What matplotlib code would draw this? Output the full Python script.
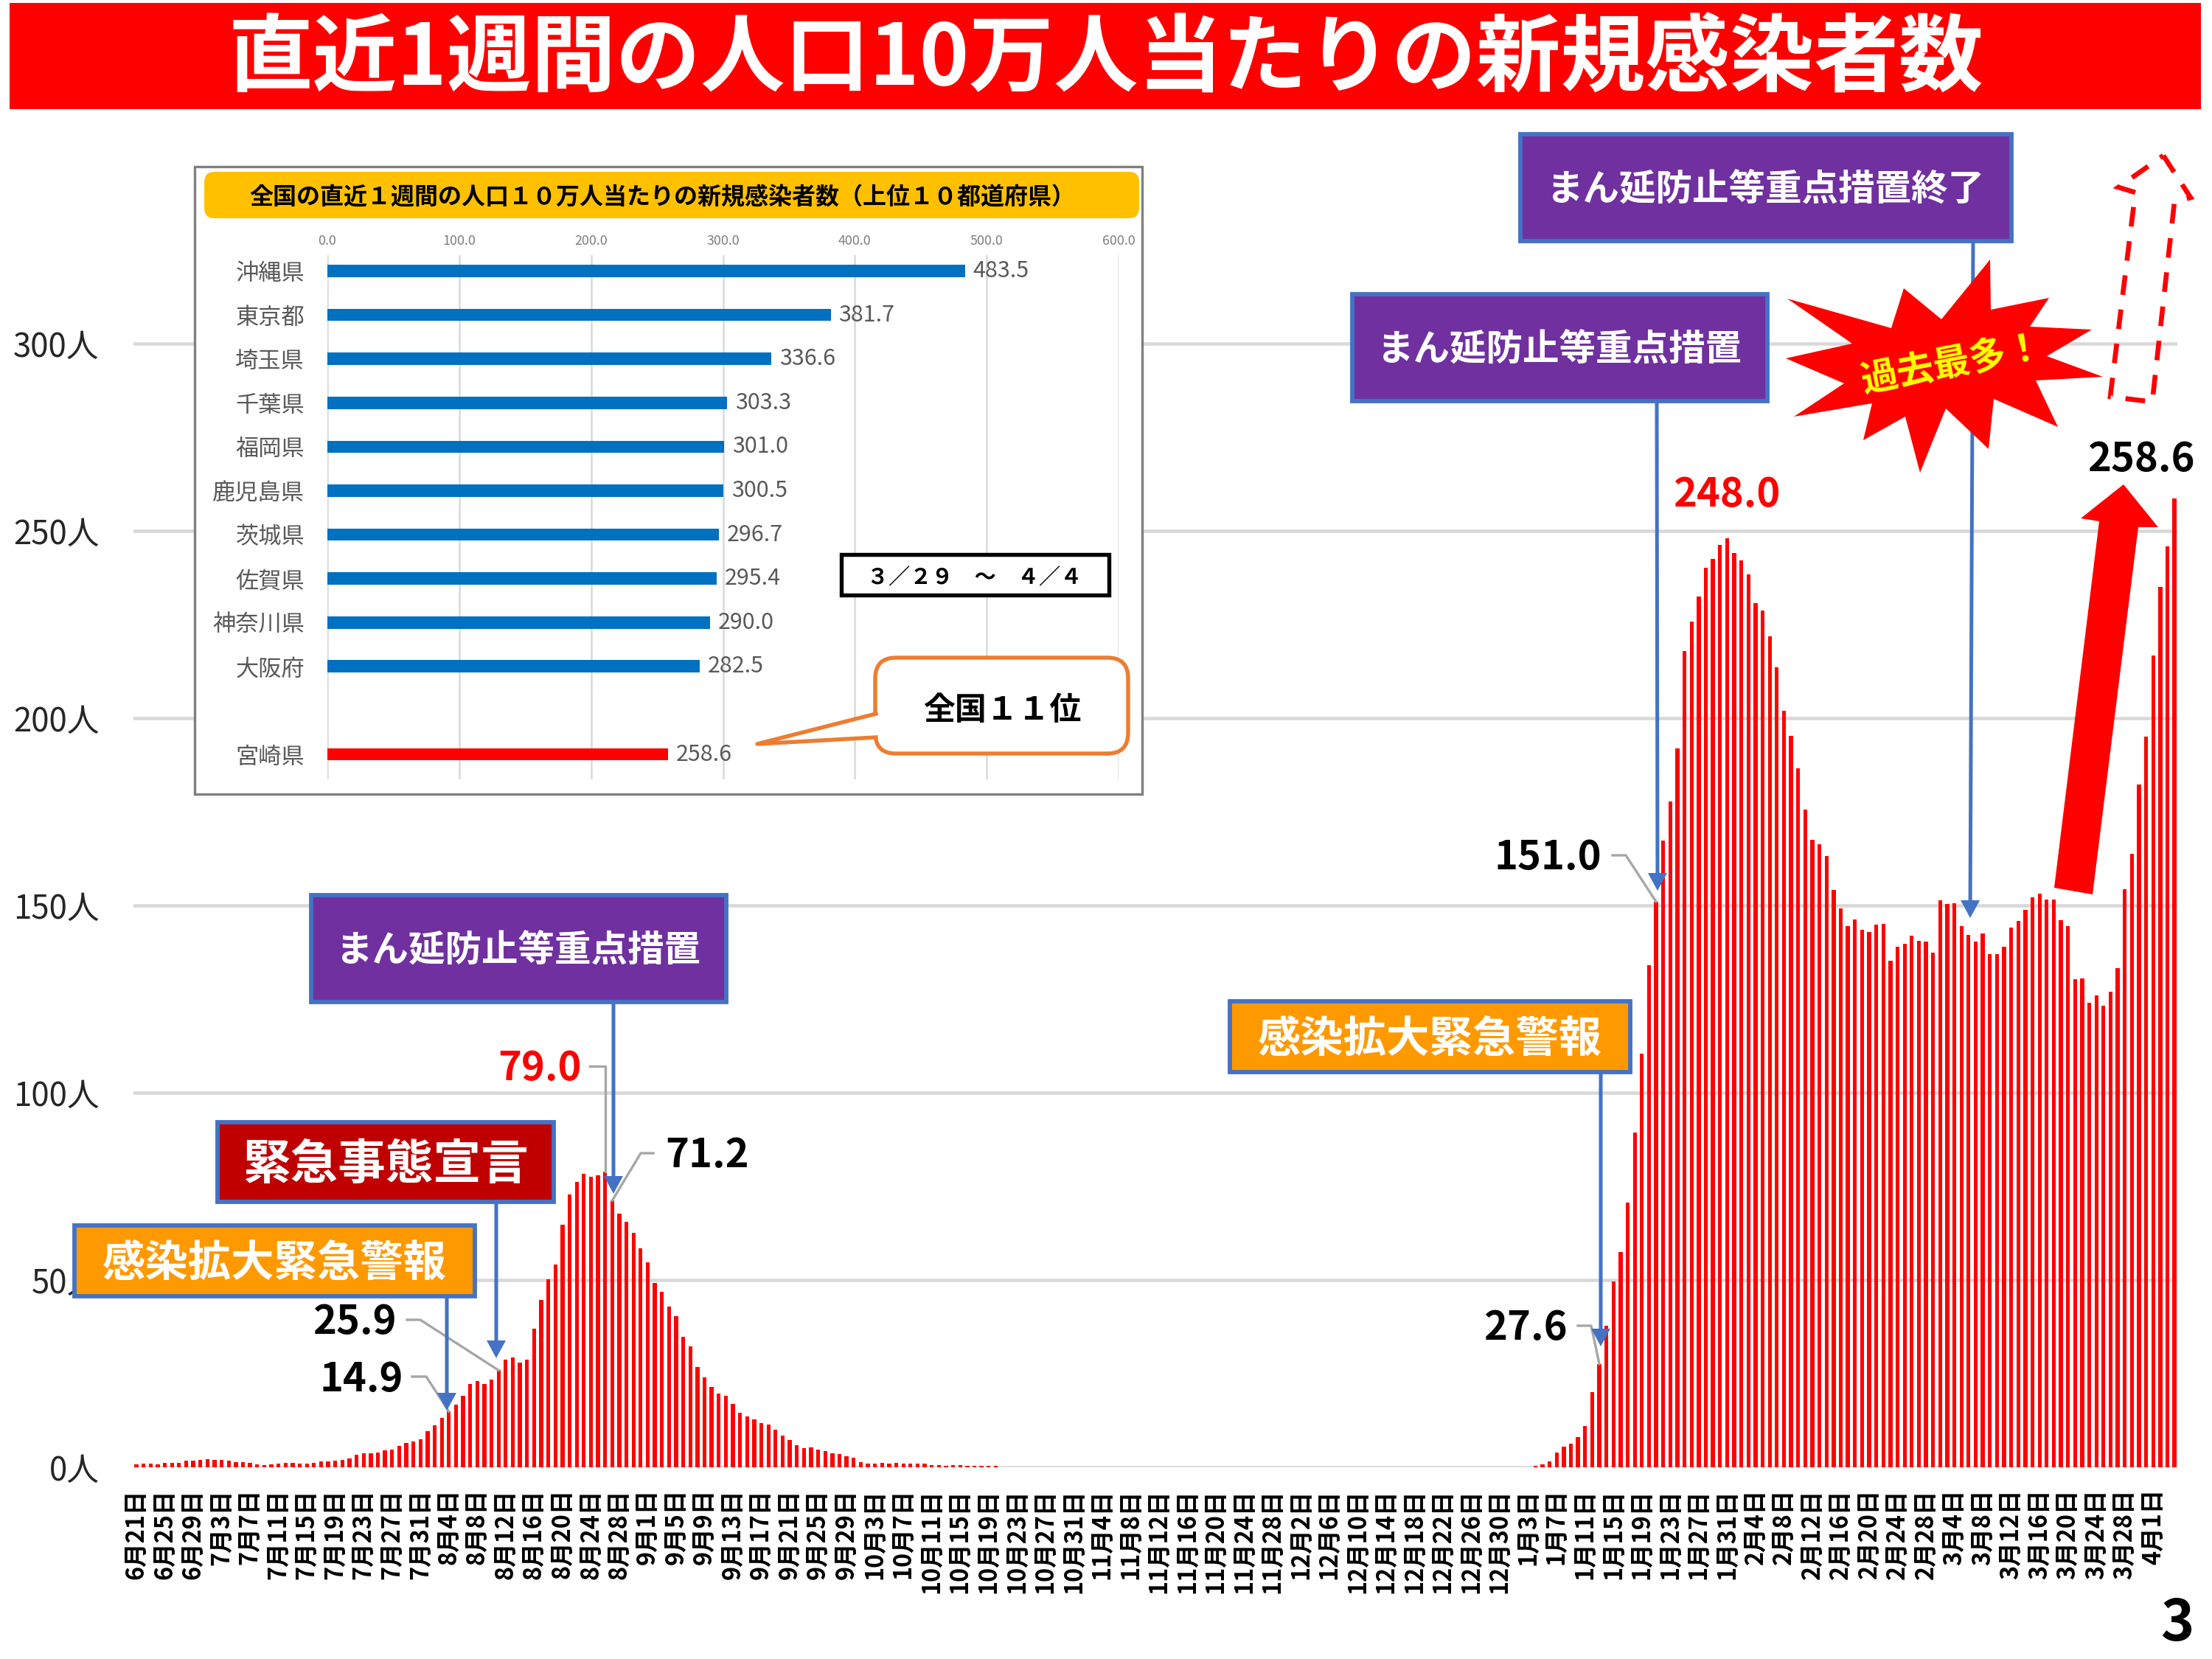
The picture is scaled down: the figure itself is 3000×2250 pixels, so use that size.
"""
Miyazaki: new cases per 100k population over the last 7 days (6/21 - 4/4),
with the national top-10 inset. Single slide figure, 3000x2250.
"""

import numpy as np
import pandas as pd
import matplotlib
matplotlib.use("Agg")
import matplotlib.pyplot as plt
from matplotlib.patches import Rectangle, FancyBboxPatch, Polygon, FancyArrow

plt.rcParams["font.family"] = ["Noto Sans CJK JP", "DejaVu Sans"]

START = "2021-06-21"
END = "2022-04-04"

# 6/21 - 10/20
SUMMER = [
    0.8, 0.9, 0.9, 0.8, 1.1, 1.1, 1.2, 1.8, 1.8, 2.0, 2.1, 1.9, 1.9, 1.8, 1.3,
    1.3, 1.2, 0.7, 0.5, 0.7, 0.9, 1.1, 1.2, 0.9, 1.0, 1.2, 1.5, 1.5, 1.7, 2.0,
    2.4, 3.3, 3.7,
    3.7, 3.9, 4.5, 4.8, 5.8, 6.4, 6.8, 7.5, 9.6, 11.3, 13.1, 14.9, 16.7, 19.1,
    22.2, 23.1, 22.2, 23.5, 25.9, 28.8, 29.3, 27.9, 28.8, 37.0, 44.6, 50.2,
    54.2, 64.7, 72.9, 76.1, 78.4, 77.6, 78.0, 79.0, 71.2, 67.7, 65.6, 62.6,
    58.4, 54.7, 49.3, 46.9, 43.0, 40.3, 34.8, 32.3, 26.8, 24.1, 21.4, 19.6,
    19.1, 16.9,
    14.6, 13.6, 12.7, 11.8, 11.4, 10.1, 8.5, 7.2, 6.0, 5.1, 5.4, 4.7, 4.3,
    3.7, 3.6, 3.0, 2.5, 1.3, 0.9, 0.9, 1.2, 1.0, 1.1, 1.0, 0.9, 0.9, 0.9,
    0.6, 0.5, 0.3, 0.6, 0.5, 0.4, 0.3, 0.3, 0.4, 0.4,
]
# 10/21 - 1/3
QUIET = [
    0, 0, 0, 0, 0, 0, 0, 0, 0, 0, 0, 0, 0, 0, 0,
    0, 0, 0, 0, 0, 0, 0, 0, 0, 0, 0, 0, 0, 0, 0,
    0, 0, 0, 0, 0, 0, 0, 0, 0, 0, 0, 0, 0, 0, 0,
    0, 0, 0, 0, 0, 0, 0, 0, 0, 0, 0, 0, 0, 0, 0,
    0, 0, 0, 0, 0, 0, 0, 0, 0, 0, 0, 0, 0, 0, 0,
]
# 1/4 - 4/4
WINTER = [
    0.3, 0.7, 1.5, 3.9, 5.5, 6.3, 8.0, 11.1, 20.0, 27.6, 37.7, 49.7, 57.4,
    70.7, 89.4, 110.4, 134.1, 151.0, 167.3, 177.7, 191.9, 218.0, 225.7, 232.5,
    240.1, 242.6, 246.2, 248.0, 244.0, 242.1, 238.4, 230.7, 228.8, 221.9,
    213.5, 201.9, 195.2, 186.6, 175.5, 167.5, 166.4, 163.2,
    154.2, 149.3, 144.4, 146.2, 143.5, 142.9, 144.9, 145.1, 135.3, 138.9,
    139.7, 142.0, 140.6, 140.4, 137.5, 151.3, 150.4, 150.5, 144.4, 142.2,
    140.4, 142.6, 137.1, 137.0, 138.9, 144.0, 145.8, 148.9, 152.2, 153.1,
    151.6, 151.6, 146.0, 144.4, 130.3, 130.6, 124.1, 125.9, 123.2, 127.0,
    133.2, 154.3, 163.8, 182.2, 195.1, 216.8, 235.0, 245.8, 258.6,
]

Y_TICKS = [0, 50, 100, 150, 200, 250, 300]

# inset: national top 10 + Miyazaki (3/29 - 4/4)
PREFS = ["沖縄県", "東京都", "埼玉県", "千葉県", "福岡県", "鹿児島県",
         "茨城県", "佐賀県", "神奈川県", "大阪府", "宮崎県"]
RATES = [483.5, 381.7, 336.6, 303.3, 301.0, 300.5, 296.7, 295.4, 290.0, 282.5, 258.6]
PREF_ROWS = [0, 1, 2, 3, 4, 5, 6, 7, 8, 9, 11]

RED = "#FF0000"
BLUE_EDGE = "#4472C4"
PURPLE = "#7030A0"
ORANGE = "#FF9900"
DARK_RED = "#C00000"
GRID = "#D9D9D9"
LEADER = "#A6A6A6"

W, H = 3000, 2250

values = np.array(SUMMER + QUIET + WINTER, dtype=float)
dates = pd.date_range(START, END, freq="D")
days = np.arange(len(dates))
tick_days = days[::4]
tick_labels = [f"{d.month}月{d.day}日" for d in dates[::4]]

fig = plt.figure(figsize=(10, 7.5), dpi=300)

# ---- main bar chart
ax = fig.add_axes([180.5 / W, 1 - 1990 / H, (2953 - 180.5) / W, (1990 - 313.6) / H])
ax.set_zorder(0)
ax.bar(days, values, width=0.55, color=RED, linewidth=0)
ax.set_xlim(-0.47, 287.4)
ax.set_ylim(0, 330)
ax.set_yticks(Y_TICKS)
ax.set_yticklabels([f"{v}人" for v in Y_TICKS], fontsize=10.5, color="#262626")
ax.set_xticks(tick_days)
ax.set_xticklabels(tick_labels, rotation=90, fontsize=7.8, fontweight="bold")
ax.tick_params(axis="y", length=0, pad=11)
ax.tick_params(axis="x", length=0, pad=7)
ax.grid(axis="y", color=GRID, lw=1.1)
ax.set_axisbelow(True)
for s in ax.spines.values():
    s.set_visible(False)

# ---- overlays in pixel coordinates (y down)
under = fig.add_axes([0, 0, 1, 1])
under.set_zorder(1)
top = fig.add_axes([0, 0, 1, 1])
top.set_zorder(3)
for o in (under, top):
    o.set_xlim(0, W)
    o.set_ylim(H, 0)
    o.axis("off")
    o.patch.set_visible(False)

# inset background
under.add_patch(Rectangle((264, 226), 1285, 851, facecolor="white",
                          edgecolor="#7F7F7F", lw=0.8))

# ---- inset bar chart
ax_in = fig.add_axes([444 / W, 1 - 1057 / H, (1517 - 444) / W, (1057 - 346) / H])
ax_in.set_zorder(2)
ax_in.patch.set_visible(False)
colors = ["#0070C0"] * 10 + [RED]
ax_in.barh(PREF_ROWS, RATES, height=0.28, color=colors, linewidth=0)
ax_in.set_xlim(0, 600)
ax_in.set_ylim(11.57, -0.36)
ax_in.set_xticks(range(0, 601, 100))
ax_in.set_xticklabels([f"{v:.1f}" for v in range(0, 601, 100)], fontsize=4.3, color="#7F7F7F")
ax_in.xaxis.tick_top()
ax_in.set_yticks(PREF_ROWS)
ax_in.set_yticklabels(PREFS, fontsize=7.5, color="#595959")
ax_in.tick_params(axis="x", length=0, pad=2.5)
ax_in.tick_params(axis="y", length=0, pad=7.4)
ax_in.grid(axis="x", color=GRID, lw=0.6)
ax_in.set_axisbelow(True)
for s in ax_in.spines.values():
    s.set_visible(False)
for r, v in zip(PREF_ROWS, RATES):
    ax_in.text(v + 6, r, f"{v:.1f}", va="center", ha="left", fontsize=7.3, color="#595959")

# inset header, period box, rank callout
top.add_patch(FancyBboxPatch((277, 233), 1268, 63, boxstyle="round,pad=0,rounding_size=14",
                             facecolor="#FFC000", edgecolor="none"))
top.text(898, 268, "全国の直近１週間の人口１０万人当たりの新規感染者数（上位１０都道府県）",
         ha="center", va="center", fontsize=7.7, fontweight="bold")
top.add_patch(Rectangle((1141, 752), 363, 55, facecolor="white", edgecolor="black", lw=1.3))
top.text(1322, 783, "３／２９　～　４／４", ha="center", va="center", fontsize=7, fontweight="bold")
top.add_patch(FancyBboxPatch((1187, 892), 343, 130, boxstyle="round,pad=0,rounding_size=28",
                             facecolor="white", edgecolor="#ED7D31", lw=1.3))
top.add_patch(Polygon([(1193, 966), (1027, 1009), (1193, 1002)], closed=True,
                      facecolor="white", edgecolor="none"))
top.plot([1188, 1027, 1188], [968, 1009, 1000], color="#ED7D31", lw=1.3)
top.text(1359, 963, "全国１１位", ha="center", va="center", fontsize=10.3, fontweight="bold")

# ---- title band
top.add_patch(Rectangle((13, 4), 2972, 144, facecolor=RED, edgecolor="none"))
top.text(1500, 82, "直近1週間の人口10万人当たりの新規感染者数", ha="center", va="center",
         fontsize=27.5, fontweight="bold", color="white")


def label_box(x0, y0, x1, y1, face, text, size):
    top.add_patch(Rectangle((x0, y0), x1 - x0, y1 - y0, facecolor=face,
                            edgecolor=BLUE_EDGE, lw=1.4, zorder=4))
    top.text((x0 + x1) / 2, (y0 + y1) / 2 + 4, text, ha="center", va="center",
             color="white", fontsize=size, fontweight="bold", zorder=5)


def blue_arrow(x0, y0, x1, y1):
    top.add_patch(FancyArrow(x0, y0, x1 - x0, y1 - y0, width=5, head_width=26,
                             head_length=24, length_includes_head=True,
                             color=BLUE_EDGE, lw=0, zorder=3))


def to_px(d, v):
    disp = ax.transData.transform((d, v))
    return top.transData.inverted().transform(disp)


def leader(points, d):
    bx, by = to_px(d, values[d])
    xs = [p[0] for p in points] + [bx]
    ys = [p[1] for p in points] + [by]
    top.plot(xs, ys, color=LEADER, lw=0.8, zorder=2)


def value_text(x, y, d, ha, color="black"):
    top.text(x, y + 4, f"{values[d]:.1f}", ha=ha, va="center", fontsize=13,
             fontweight="bold", color=color, zorder=5)


# summer wave annotations
blue_arrow(606, 1758, 606, 1913)
blue_arrow(673, 1630, 673, 1842)
blue_arrow(832, 1359, 832, 1619)
label_box(101, 1662, 644, 1758, ORANGE, "感染拡大緊急警報", 14)
label_box(295, 1522, 751, 1630, DARK_RED, "緊急事態宣言", 15.5)
label_box(422, 1214, 985, 1359, PURPLE, "まん延防止等重点措置", 11.9)

leader([(559, 1867), (578, 1867)], 44)
value_text(547, 1867, 44, "right")
leader([(552, 1790), (570, 1790)], 51)
value_text(538, 1790, 51, "right")
x66, _ = to_px(66, values[66])
leader([(800, 1446), (x66, 1446)], 66)
value_text(732, 1445, 66, "center", RED)
leader([(886, 1564), (869, 1564)], 67)
value_text(902, 1564, 67, "left")

# winter wave annotations
blue_arrow(2171, 1454, 2171, 1826)
blue_arrow(2247, 544, 2248, 1208)
blue_arrow(2676, 327, 2672, 1245)
label_box(1668, 1358, 2211, 1454, ORANGE, "感染拡大緊急警報", 14)
label_box(1834, 399, 2397, 544, PURPLE, "まん延防止等重点措置", 11.9)
label_box(2062, 182, 2728, 327, PURPLE, "まん延防止等重点措置終了", 11.9)

leader([(2140, 1798), (2158, 1798)], 206)
value_text(2126, 1798, 206, "right")
leader([(2187, 1160), (2205, 1160)], 214)
value_text(2172, 1160, 214, "right")
value_text(2342, 668, 224, "center", RED)
value_text(2904, 620, len(values) - 1, "center")

# burst "record high"
star = [(2699, 352), (2700, 420), (2779, 404), (2753, 443), (2837, 447), (2776, 483),
        (2852, 511), (2761, 516), (2791, 579), (2704, 541), (2697, 609), (2639, 554),
        (2604, 641), (2584, 565), (2527, 597), (2539, 547), (2433, 565), (2501, 520),
        (2422, 486), (2512, 466), (2424, 405), (2565, 445), (2582, 391), (2633, 433)]
top.add_patch(Polygon(star, closed=True, facecolor=RED, edgecolor="none", zorder=6))
top.text(2648, 494, "過去最多！", ha="center", va="center", rotation=11, fontsize=12,
         fontweight="bold", color="#FFFF00", zorder=7)

# big rising arrow
rise = [(2880, 657), (2927, 715), (2900, 715), (2838, 1213), (2786, 1204),
        (2847, 707), (2822, 703)]
top.add_patch(Polygon(rise, closed=True, facecolor=RED, edgecolor="none", zorder=6))

# dashed outline arrow
ghost = [(2934, 211), (2971, 268), (2949, 274), (2919, 545), (2862, 538),
         (2896, 261), (2873, 254)]
top.add_patch(Polygon(ghost, closed=True, facecolor="none", edgecolor=RED, lw=1.6,
                      linestyle=(0, (4, 3)), zorder=6))

# page number
top.text(2953, 2202, "3", ha="center", va="center", fontsize=18.5, fontweight="bold")

fig.savefig("out.png", dpi=300, facecolor="white")
